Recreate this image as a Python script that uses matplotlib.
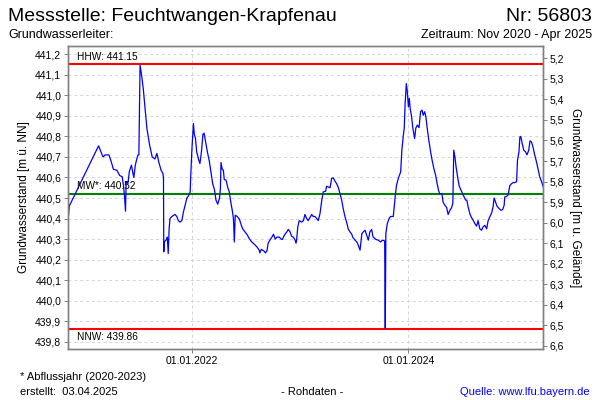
import matplotlib
matplotlib.use('Agg')
import matplotlib.pyplot as plt
import matplotlib.dates as mdates
import matplotlib.transforms as mtransforms
from matplotlib.ticker import MultipleLocator, FuncFormatter
import pandas as pd

plt.rcParams['font.family'] = ['Liberation Sans', 'DejaVu Sans']

# Grundwasserstand (m ue. NN), Messstelle 56803
dates = [
    '2020-11-11', '2020-11-13', '2021-02-20', '2021-03-07', '2021-03-15', '2021-03-27',
    '2021-04-04', '2021-04-11', '2021-04-23', '2021-05-02', '2021-05-11', '2021-05-15',
    '2021-05-18', '2021-05-22', '2021-05-24', '2021-05-30', '2021-06-04', '2021-06-11',
    '2021-06-16', '2021-06-19', '2021-06-24', '2021-06-29', '2021-07-03', '2021-07-06',
    '2021-07-10', '2021-07-15', '2021-07-21', '2021-07-26', '2021-08-02', '2021-08-11',
    '2021-08-20', '2021-08-29', '2021-09-05', '2021-09-11', '2021-09-19', '2021-09-25',
    '2021-09-27', '2021-09-28', '2021-09-30', '2021-10-05', '2021-10-08', '2021-10-10',
    '2021-10-13', '2021-10-16', '2021-10-19', '2021-10-25', '2021-11-05', '2021-11-11',
    '2021-11-16', '2021-11-22', '2021-11-28', '2021-12-03', '2021-12-09', '2021-12-15',
    '2021-12-20', '2021-12-26', '2021-12-28', '2022-01-01', '2022-01-06', '2022-01-09',
    '2022-01-13', '2022-01-17', '2022-01-24', '2022-01-28', '2022-02-02', '2022-02-07',
    '2022-02-11', '2022-02-17', '2022-02-22', '2022-03-01', '2022-03-07', '2022-03-12',
    '2022-03-18', '2022-03-23', '2022-03-29', '2022-04-04', '2022-04-07', '2022-04-09',
    '2022-04-13', '2022-04-17', '2022-04-20', '2022-04-26', '2022-05-02', '2022-05-07',
    '2022-05-12', '2022-05-17', '2022-05-21', '2022-05-24', '2022-05-27', '2022-06-03',
    '2022-06-10', '2022-06-16', '2022-06-21', '2022-06-29', '2022-07-07', '2022-07-14',
    '2022-07-22', '2022-07-31', '2022-08-08', '2022-08-16', '2022-08-18', '2022-08-23',
    '2022-08-31', '2022-09-06', '2022-09-11', '2022-09-15', '2022-09-22', '2022-09-28',
    '2022-10-03', '2022-10-09', '2022-10-15', '2022-10-22', '2022-10-29', '2022-11-02',
    '2022-11-09', '2022-11-17', '2022-11-22', '2022-11-28', '2022-12-03', '2022-12-09',
    '2022-12-15', '2022-12-18', '2022-12-20', '2022-12-24', '2022-12-29', '2023-01-06',
    '2023-01-12', '2023-01-17', '2023-01-23', '2023-01-28', '2023-02-03', '2023-02-09',
    '2023-02-14', '2023-02-20', '2023-02-26', '2023-03-03', '2023-03-09', '2023-03-15',
    '2023-03-20', '2023-03-28', '2023-03-31', '2023-04-06', '2023-04-12', '2023-04-17',
    '2023-04-23', '2023-04-28', '2023-05-04', '2023-05-10', '2023-05-15', '2023-05-21',
    '2023-05-26', '2023-06-01', '2023-06-07', '2023-06-12', '2023-06-18', '2023-06-24',
    '2023-06-27', '2023-07-05', '2023-07-11', '2023-07-16', '2023-07-22', '2023-07-28',
    '2023-08-02', '2023-08-08', '2023-08-13', '2023-08-19', '2023-08-24', '2023-08-30',
    '2023-09-04', '2023-09-14', '2023-09-21', '2023-09-29', '2023-10-05', '2023-10-13',
    '2023-10-15', '2023-10-17', '2023-10-22', '2023-10-28', '2023-11-02', '2023-11-11',
    '2023-11-14', '2023-11-18', '2023-11-22', '2023-11-29', '2023-12-06', '2023-12-10',
    '2023-12-15', '2023-12-18', '2023-12-21', '2023-12-25', '2023-12-28', '2024-01-01',
    '2024-01-04', '2024-01-07', '2024-01-12', '2024-01-16', '2024-01-22', '2024-01-26',
    '2024-01-31', '2024-02-06', '2024-02-11', '2024-02-16', '2024-02-20', '2024-02-25',
    '2024-02-29', '2024-03-04', '2024-03-10', '2024-03-16', '2024-03-21', '2024-03-27',
    '2024-04-02', '2024-04-07', '2024-04-12', '2024-04-16', '2024-04-23', '2024-04-27',
    '2024-05-03', '2024-05-09', '2024-05-14', '2024-05-20', '2024-05-26', '2024-05-30',
    '2024-06-02', '2024-06-06', '2024-06-10', '2024-06-15', '2024-06-20', '2024-06-26',
    '2024-07-02', '2024-07-07', '2024-07-12', '2024-07-16', '2024-07-21', '2024-07-27',
    '2024-08-01', '2024-08-07', '2024-08-12', '2024-08-18', '2024-08-23', '2024-08-29',
    '2024-09-04', '2024-09-09', '2024-09-15', '2024-09-21', '2024-09-26', '2024-10-02',
    '2024-10-08', '2024-10-13', '2024-10-16', '2024-10-21', '2024-10-26', '2024-11-01',
    '2024-11-08', '2024-11-14', '2024-11-19', '2024-11-21', '2024-11-27', '2024-12-02',
    '2024-12-08', '2024-12-14', '2024-12-19', '2024-12-25', '2024-12-31', '2025-01-03',
    '2025-01-08', '2025-01-11', '2025-01-14', '2025-01-19', '2025-01-24', '2025-01-30',
    '2025-02-04', '2025-02-10', '2025-02-14', '2025-02-19', '2025-02-24', '2025-03-02',
    '2025-03-08', '2025-03-14', '2025-03-19', '2025-03-25', '2025-03-31',
]
levels = [
    440.42, 440.46, 440.754, 440.70, 440.71, 440.71,
    440.676, 440.64, 440.635, 440.61, 440.603, 440.56,
    440.52, 440.436, 440.58, 440.57, 440.63, 440.66,
    440.62, 440.60, 440.66, 440.69, 440.71, 440.71,
    441.147, 441.10, 441.03, 440.95, 440.84, 440.76,
    440.70, 440.69, 440.717, 440.676, 440.635, 440.62,
    440.60, 440.238, 440.286, 440.295, 440.30, 440.31,
    440.23, 440.35, 440.40, 440.41, 440.42, 440.41,
    440.39, 440.383, 440.39, 440.43, 440.465, 440.50,
    440.51, 440.53, 440.61, 440.74, 440.863, 440.81,
    440.79, 440.725, 440.684, 440.668, 440.725, 440.81,
    440.816, 440.765, 440.725, 440.676, 440.62, 440.57,
    440.54, 440.49, 440.47, 440.50, 440.546, 440.673,
    440.64, 440.635, 440.59, 440.587, 440.55, 440.53,
    440.48, 440.44, 440.40, 440.286, 440.416, 440.41,
    440.397, 440.37, 440.35, 440.335, 440.32, 440.30,
    440.286, 440.274, 440.262, 440.246, 440.233, 440.25,
    440.243, 440.233, 440.243, 440.28, 440.298, 440.31,
    440.324, 440.30, 440.31, 440.31, 440.30, 440.298,
    440.32, 440.335, 440.347, 440.335, 440.314, 440.31,
    440.295, 440.28, 440.295, 440.36, 440.39, 440.383,
    440.39, 440.42, 440.40, 440.39, 440.405, 440.42,
    440.41, 440.41, 440.40, 440.39, 440.425, 440.49,
    440.53, 440.533, 440.557, 440.554, 440.55, 440.595,
    440.598, 440.583, 440.57, 440.55, 440.522, 440.49,
    440.45, 440.41, 440.38, 440.35, 440.335, 440.324,
    440.31, 440.295, 440.286, 440.27, 440.246, 440.327,
    440.335, 440.343, 440.32, 440.295, 440.335, 440.347,
    440.31, 440.298, 440.295, 440.286, 440.295, 440.291,
    439.865, 440.327, 440.376, 440.40, 440.41, 440.41,
    440.457, 440.514, 440.563, 440.60, 440.627, 440.733,
    440.806, 440.84, 440.96, 441.057, 441.025, 440.944,
    440.985, 440.936, 440.895, 440.84, 440.79, 440.84,
    440.855, 440.843, 440.92, 440.928, 440.903, 440.92,
    440.895, 440.846, 440.78, 440.725, 440.684, 440.643,
    440.61, 440.57, 440.535, 440.52, 440.522, 440.48,
    440.465, 440.454, 440.42, 440.44, 440.454, 440.476,
    440.733, 440.70, 440.65, 440.603, 440.56, 440.54,
    440.52, 440.505, 440.49, 440.49, 440.454, 440.42,
    440.405, 440.39, 440.376, 440.363, 440.39, 440.35,
    440.343, 440.36, 440.367, 440.35, 440.39, 440.41,
    440.428, 440.46, 440.50, 440.48, 440.46, 440.45,
    440.44, 440.444, 440.465, 440.505, 440.508, 440.514,
    440.56, 440.57, 440.575, 440.575, 440.58, 440.684,
    440.725, 440.797, 440.80, 440.765, 440.733, 440.725,
    440.71, 440.733, 440.778, 440.773, 440.75, 440.71,
    440.676, 440.635, 440.603, 440.58, 440.554,
]

hhw = 441.15
mw = 440.52
nnw = 439.86
gelaende = 446.38  # Gelaendehoehe fuer rechte Achse

t = pd.to_datetime(dates)

fig = plt.figure(figsize=(6, 4), dpi=100)
ax = fig.add_axes([68.3 / 600, 1 - 349 / 400, 474.4 / 600, 303 / 400])

ax.plot(t, levels, color='#0000ff', lw=0.9, zorder=3)
ax.axhline(hhw, color='#ff0000', lw=1.5, zorder=2)
ax.axhline(nnw, color='#ff0000', lw=1.5, zorder=2)
ax.axhline(mw, color='#008000', lw=1.5, zorder=2)

trans = mtransforms.blended_transform_factory(ax.transAxes, ax.transData)
ax.text(0.018, hhw + 0.012, 'HHW: 441.15', transform=trans, fontsize=7.3, va='bottom')
ax.text(0.018, mw + 0.012, 'MW*: 440.52', transform=trans, fontsize=7.3, va='bottom')
ax.text(0.018, nnw - 0.012, 'NNW: 439.86', transform=trans, fontsize=7.3, va='top')

ax.set_xlim(pd.Timestamp('2020-11-10'), pd.Timestamp('2025-03-29'))
ax.set_ylim(439.765, 441.24)

ax.yaxis.set_major_locator(MultipleLocator(0.1))
ax.yaxis.set_major_formatter(FuncFormatter(lambda v, p: f'{v:.1f}'.replace('.', ',')))
ax.set_xticks(pd.to_datetime(['2022-01-01', '2024-01-01']))
ax.xaxis.set_major_formatter(mdates.DateFormatter('%d.%m.%Y'))

ax.grid(True, color='#d4d4d4', linestyle=(0, (3, 3)), lw=0.7)
ax.tick_params(labelsize=7.5, length=3, width=0.7, color='#808080', pad=2)
for s in ax.spines.values():
    s.set_color('#808080')
    s.set_linewidth(1.0)
ax.set_ylabel('Grundwasserstand [m ü. NN]', fontsize=8.5, labelpad=4)

ax2 = ax.twinx()
lo, hi = ax.get_ylim()
ax2.set_ylim(gelaende - lo, gelaende - hi)
ax2.yaxis.set_major_locator(MultipleLocator(0.1))
ax2.yaxis.set_major_formatter(FuncFormatter(lambda v, p: f'{v:.1f}'.replace('.', ',')))
ax2.tick_params(labelsize=7.5, length=3, width=0.7, color='#808080', pad=2)
for s in ax2.spines.values():
    s.set_color('#808080')
    s.set_linewidth(1.0)
ax2.set_ylabel('Grundwasserstand [m u. Gelände]', fontsize=8.5, rotation=270, labelpad=12)

fig.text(8 / 600, 1 - 21 / 400, 'Messstelle: Feuchtwangen-Krapfenau', fontsize=14, va='baseline')
fig.text(592 / 600, 1 - 21 / 400, 'Nr: 56803', fontsize=14, va='baseline', ha='right')
fig.text(8 / 600, 1 - 38 / 400, 'Grundwasserleiter:', fontsize=9, va='baseline')
fig.text(592 / 600, 1 - 38 / 400, 'Zeitraum: Nov 2020 - Apr 2025', fontsize=9, va='baseline', ha='right')

fig.text(20 / 600, 1 - 380 / 400, '* Abflussjahr (2020-2023)', fontsize=8, va='baseline')
fig.text(20 / 600, 1 - 395 / 400, 'erstellt:  03.04.2025', fontsize=8, va='baseline')
fig.text(312 / 600, 1 - 395 / 400, '- Rohdaten -', fontsize=8, va='baseline', ha='center')
fig.text(590 / 600, 1 - 395 / 400, 'Quelle: www.lfu.bayern.de', fontsize=8, va='baseline',
         ha='right', color='#0000ff')

fig.savefig('out.png', dpi=100)
